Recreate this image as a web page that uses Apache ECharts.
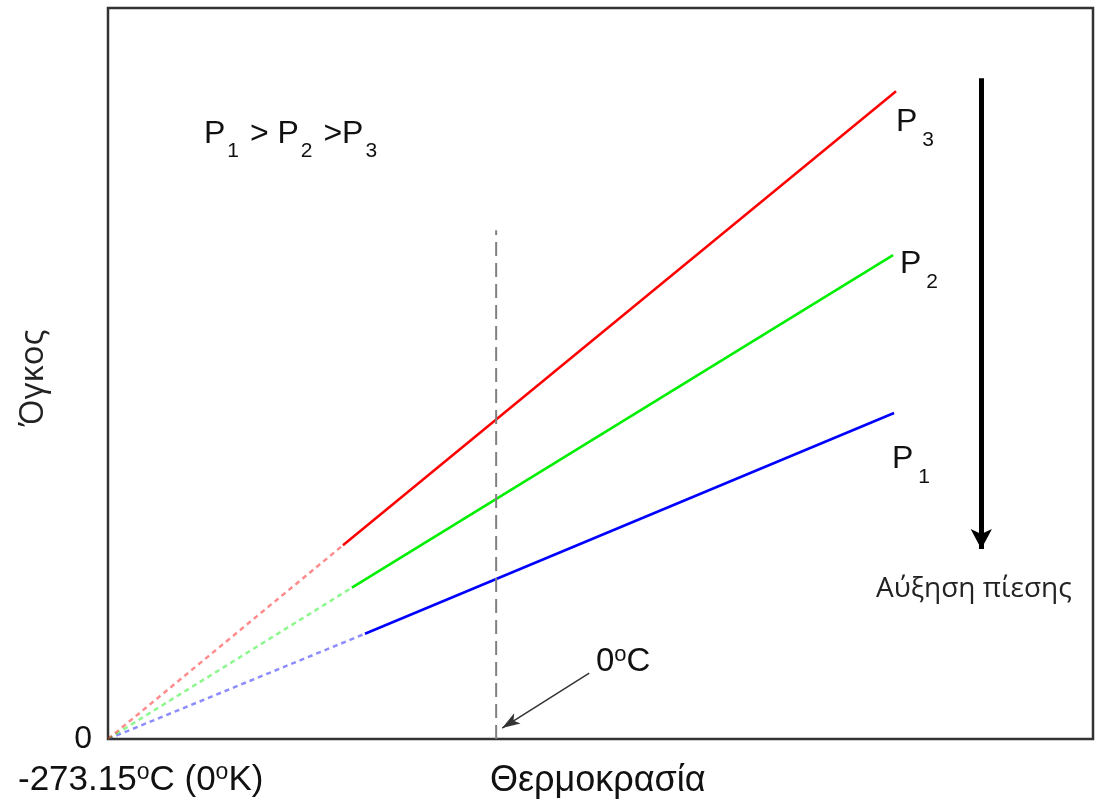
<!DOCTYPE html>
<html>
<head>
<meta charset="utf-8">
<script src="https://cdn.jsdelivr.net/npm/echarts@6/dist/echarts.min.js"></script>
<style>html,body{margin:0;padding:0;background:#fff}#c{width:1097px;height:800px}</style>
</head>
<body>
<div id="c"></div>
<script>
// Temperature (°C) and volume (arbitrary units)
const tempMin = -273.15, tempMax = 420;
const volMin = 0, volMax = 100;
const p1Temps = [-273.15, -92.3, 280.0];
const p1Vols  = [0, 14.4, 44.6];
const p2Temps = [-273.15, -101.5, 279.3];
const p2Vols  = [0, 20.7, 66.2];
const p3Temps = [-273.15, -107.8, 281.4];
const p3Vols  = [0, 26.5, 88.6];
const zeroLineTemps = [0, 0];
const zeroLineVols = [0, 69.6];
const zeroArrowFrom = [65.5, 9.0];
const zeroArrowTo = [4.2, 1.5];
const pressureArrowFrom = [341.4, 90.4];
const pressureArrowTo = [341.4, 26.0];

const pts = (t, v, a, b) => t.slice(a, b).map((x, i) => [x, v[a + i]]);

const chart = echarts.init(document.getElementById('c'), null, {renderer: 'canvas'});
const FONT = '"Liberation Sans", Arial, sans-serif';
const SANS2 = '"Open Sans", "Noto Sans", sans-serif';
const colors = {p1: '#0000ff', p2: '#00ee00', p3: '#ff0000'};

function seg(data, color, dotted) {
  return {
    type: 'line', data, symbol: 'none', silent: true, animation: false,
    lineStyle: dotted ? {color, width: 2.5, type: [5, 4], opacity: 0.45} : {color, width: 2.5}
  };
}
const sub = (size, top, left) => ({fontSize: size, fontFamily: FONT, fill: '#111', padding: [top, 2, 0, left]});
const main = size => ({fontSize: size, fontFamily: FONT, fill: '#111'});
const sup = (size, bottom) => ({fontSize: size, fontFamily: FONT, fill: '#111', padding: [0, 0, bottom, 0]});

const option = {
  animation: false,
  grid: {left: 108, right: 4, top: 8, bottom: 61, show: true, borderColor: '#333', borderWidth: 2.5, containLabel: false},
  xAxis: {type: 'value', min: tempMin, max: tempMax, axisLine: {show: false}, axisTick: {show: false}, axisLabel: {show: false}, splitLine: {show: false}},
  yAxis: {type: 'value', min: volMin, max: volMax, interval: 100,
    axisLine: {show: false}, axisTick: {show: false}, splitLine: {show: false},
    axisLabel: {formatter: v => v === 0 ? '0' : '', fontSize: 32, color: '#111', fontFamily: FONT, margin: 16, verticalAlign: 'middle', padding: [0, 0, 12, 0]}
  },
  series: [
    seg(pts(p1Temps, p1Vols, 0, 2), colors.p1, true),
    seg(pts(p1Temps, p1Vols, 1, 3), colors.p1, false),
    seg(pts(p2Temps, p2Vols, 0, 2), colors.p2, true),
    seg(pts(p2Temps, p2Vols, 1, 3), colors.p2, false),
    seg(pts(p3Temps, p3Vols, 0, 2), colors.p3, true),
    seg(pts(p3Temps, p3Vols, 1, 3), colors.p3, false),
    {
      type: 'line', symbol: 'none', silent: true,
      data: zeroLineTemps.map((t, i) => [t, zeroLineVols[i]]),
      lineStyle: {color: '#808080', width: 2, type: [14, 7]},
      markLine: {
        silent: true, animation: false, label: {show: false},
        data: [
          [{coord: zeroArrowFrom, symbol: 'none', lineStyle: {color: '#333', width: 1.5, type: 'solid'}},
           {coord: zeroArrowTo, symbol: 'arrow', symbolSize: [9, 18]}],
          [{coord: pressureArrowFrom, symbol: 'none', lineStyle: {color: '#000', width: 5, type: 'solid'}},
           {coord: pressureArrowTo, symbol: 'arrow', symbolSize: [16, 20]}]
        ]
      }
    }
  ],
  graphic: [
    {type: 'text', x: 34, y: 378, rotation: Math.PI / 2, style: {
      text: 'Όγκος', fontSize: 33, fontFamily: SANS2, fill: '#222', align: 'center', verticalAlign: 'middle'
    }},
    {type: 'text', left: 204, top: 118, style: {
      text: '{m|P}{s|1}{m| > P}{s|2}{m| >P}{s|3}',
      rich: {m: main(32), s: sub(21, 34, 2)}
    }},
    {type: 'text', left: 896, top: 106, style: {
      text: '{m|P}{s|3}', rich: {m: main(32), s: sub(21, 36, 5)}
    }},
    {type: 'text', left: 900, top: 248, style: {
      text: '{m|P}{s|2}', rich: {m: main(32), s: sub(21, 36, 5)}
    }},
    {type: 'text', left: 892, top: 443, style: {
      text: '{m|P}{s|1}', rich: {m: main(32), s: sub(21, 36, 5)}
    }},
    {type: 'text', left: 596, top: 644, style: {
      text: '{m|0}{u|o}{m|C}', rich: {m: main(33), u: sup(22, 14)}
    }},
    {type: 'text', left: 18, top: 761, style: {
      text: '{m|-273.15}{u|o}{m|C (0}{u|o}{m|K)}', rich: {m: main(35), u: sup(23, 16)}
    }},
    {type: 'text', left: 490, top: 763, style: {
      text: 'Θερμοκρασία', fontSize: 36, fontFamily: FONT, fill: '#111'
    }},
    {type: 'text', left: 876, top: 575, style: {
      text: 'Αύξηση πίεσης', fontSize: 28, fontFamily: SANS2, fill: '#222'
    }}
  ]
};
chart.setOption(option);
</script>
</body>
</html>
